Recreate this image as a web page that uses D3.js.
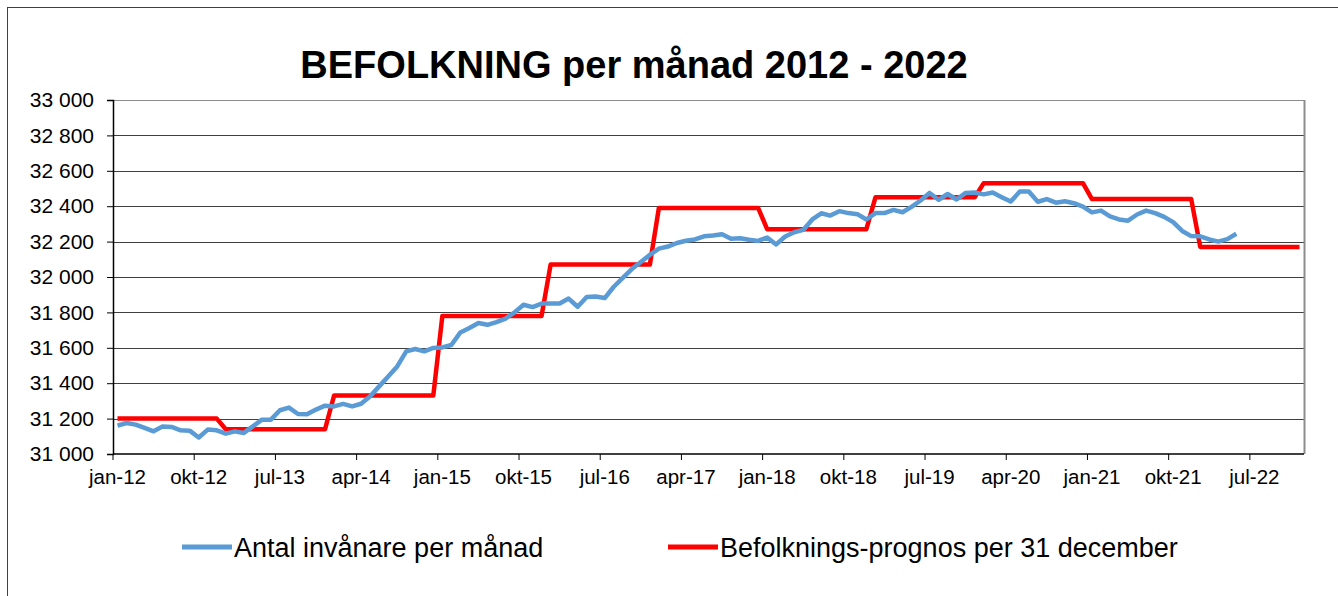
<!DOCTYPE html>
<html>
<head>
<meta charset="utf-8">
<script src="https://cdn.jsdelivr.net/npm/d3@7"></script>
<style>
  body { margin: 0; background: #fff; }
  svg { display: block; font-family: "Liberation Sans", Arial, sans-serif; }
</style>
</head>
<body>
<svg id="chart" width="1338" height="596"></svg>
<script>
// monthly population, jan-12 .. maj-22
const invanare = [
  31160, 31175, 31166, 31147, 31128, 31156, 31153, 31134, 31132, 31093, 31138, 31134,
  31115, 31128, 31119, 31156, 31194, 31194, 31247, 31262, 31226, 31224, 31251, 31273,
  31269, 31283, 31269, 31284, 31326, 31382, 31438, 31495, 31580, 31593, 31580, 31599,
  31602, 31616, 31687, 31712, 31740, 31730, 31745, 31765, 31800, 31843, 31830, 31850,
  31850, 31850, 31878, 31832, 31887, 31890, 31881, 31945, 31995, 32045, 32085, 32125,
  32160, 32172, 32192, 32205, 32212, 32230, 32234, 32242, 32216, 32219, 32210, 32204,
  32223, 32184, 32229, 32253, 32266, 32325, 32360, 32347, 32372, 32361, 32355, 32325,
  32361, 32361, 32379, 32366, 32396, 32432, 32475, 32436, 32469, 32438, 32475, 32477,
  32467, 32477, 32451, 32426, 32483, 32483, 32425, 32440, 32420, 32428, 32417, 32398,
  32365, 32375, 32342, 32325, 32318, 32353, 32375, 32361, 32340, 32310, 32260, 32231,
  32230, 32212, 32200, 32214, 32244
]

// forecast per 31 december, one level per year 2012..2022 (held for 12 months)
const prognosAr = [2012, 2013, 2014, 2015, 2016, 2017, 2018, 2019, 2020, 2021, 2022]
const prognos = [31200, 31140, 31330, 31780, 32070, 32390, 32270, 32450, 32530, 32440, 32170]

const xLabels = ['jan-12', 'okt-12', 'jul-13', 'apr-14', 'jan-15', 'okt-15', 'jul-16', 'apr-17',
  'jan-18', 'okt-18', 'jul-19', 'apr-20', 'jan-21', 'okt-21', 'jul-22']
const labelStep = 9      // months between labels
const yTicks = [31000, 31200, 31400, 31600, 31800, 32000, 32200, 32400, 32600, 32800, 33000]

const seriesNames = ['Antal invånare per månad', 'Befolknings-prognos per 31 december']
const colors = ['#5B9BD5', '#FF0000']

const svg = d3.select('#chart')
const width = 1338, height = 596
const margin = { top: 100, right: 34, bottom: 142, left: 113 }
const innerW = width - margin.left - margin.right
const innerH = height - margin.top - margin.bottom

svg.append('rect').attr('width', width).attr('height', height).attr('fill', '#fff')
svg.append('rect')
  .attr('x', 7.5).attr('y', 7.5).attr('width', width + 20).attr('height', height + 20)
  .attr('fill', 'none').attr('stroke', '#404040').attr('stroke-width', 1)

svg.append('text')
  .attr('x', 634).attr('y', 78)
  .attr('text-anchor', 'middle')
  .attr('font-weight', 'bold')
  .attr('font-size', 38)
  .text('BEFOLKNING per månad 2012 - 2022')

const g = svg.append('g').attr('transform', `translate(${margin.left},${margin.top})`)

const prognosMonthly = prognos.flatMap(v => d3.range(12).map(() => v))
const nCat = prognosMonthly.length

const x = d3.scaleBand().domain(d3.range(nCat)).range([0, innerW]).padding(0)
const xc = i => x(i) + x.bandwidth() / 2
const y = d3.scaleLinear().domain([31000, 33000]).range([innerH, 0])

const fmt = d3.formatLocale({ decimal: ',', thousands: ' ', grouping: [3], currency: ['', ' kr'] }).format(',')

// gridlines
g.append('g')
  .selectAll('line')
  .data(yTicks.slice(1))
  .enter()
  .append('line')
  .attr('x1', 0).attr('x2', innerW)
  .attr('y1', d => Math.round(y(d)) + 0.5).attr('y2', d => Math.round(y(d)) + 0.5)
  .attr('stroke', d => d === 33000 ? '#8c8c8c' : '#404040')
  .attr('stroke-width', 1.2)

// plot border right
g.append('line')
  .attr('x1', innerW + 0.5).attr('x2', innerW + 0.5).attr('y1', 0).attr('y2', innerH)
  .attr('stroke', '#8c8c8c').attr('stroke-width', 2)

// y axis
const yAxis = g.append('g')
  .call(d3.axisLeft(y).tickValues(yTicks).tickSize(6).tickPadding(13).tickFormat(fmt))
yAxis.select('.domain').attr('stroke', '#000').attr('stroke-width', 1.5)
yAxis.selectAll('.tick line').attr('stroke', '#000')
yAxis.selectAll('text').attr('font-size', 21).attr('fill', '#000')
  .attr('font-family', '"Liberation Sans", Arial, sans-serif')

// x axis: category axis, a label every 9 months
const xAxisG = g.append('g').attr('transform', `translate(0,${innerH})`)
xAxisG.append('line')
  .attr('x1', 0).attr('x2', innerW).attr('y1', 0).attr('y2', 0)
  .attr('stroke', '#000').attr('stroke-width', 1.5)
const xt = xAxisG.selectAll('.xt')
  .data(xLabels)
  .enter()
  .append('g')
  .attr('class', 'xt')
xt.append('line')
  .attr('x1', (d, i) => x(i * labelStep)).attr('x2', (d, i) => x(i * labelStep))
  .attr('y1', 0).attr('y2', 6)
  .attr('stroke', '#000')
xt.append('text')
  .attr('x', (d, i) => xc(i * labelStep))
  .attr('y', 30)
  .attr('text-anchor', 'middle')
  .attr('font-size', 20.5)
  .text(d => d)

// lines
const line = d3.line().x((d, i) => xc(i)).y(d => y(d))

g.append('path')
  .datum(prognosMonthly)
  .attr('fill', 'none')
  .attr('stroke', colors[1])
  .attr('stroke-width', 4.5)
  .attr('stroke-linejoin', 'round')
  .attr('d', line)

g.append('path')
  .datum(invanare)
  .attr('fill', 'none')
  .attr('stroke', colors[0])
  .attr('stroke-width', 4.5)
  .attr('stroke-linejoin', 'round')
  .attr('d', line)

// legend
const legendY = 547
const legendX = [182, 668]
const legend = svg.append('g')
seriesNames.forEach((s, i) => {
  legend.append('line')
    .attr('x1', legendX[i]).attr('x2', legendX[i] + 50)
    .attr('y1', legendY).attr('y2', legendY)
    .attr('stroke', colors[i]).attr('stroke-width', 5)
  legend.append('text')
    .attr('x', legendX[i] + 52)
    .attr('y', legendY + 10)
    .attr('font-size', 27)
    .text(s)
})
</script>
</body>
</html>
